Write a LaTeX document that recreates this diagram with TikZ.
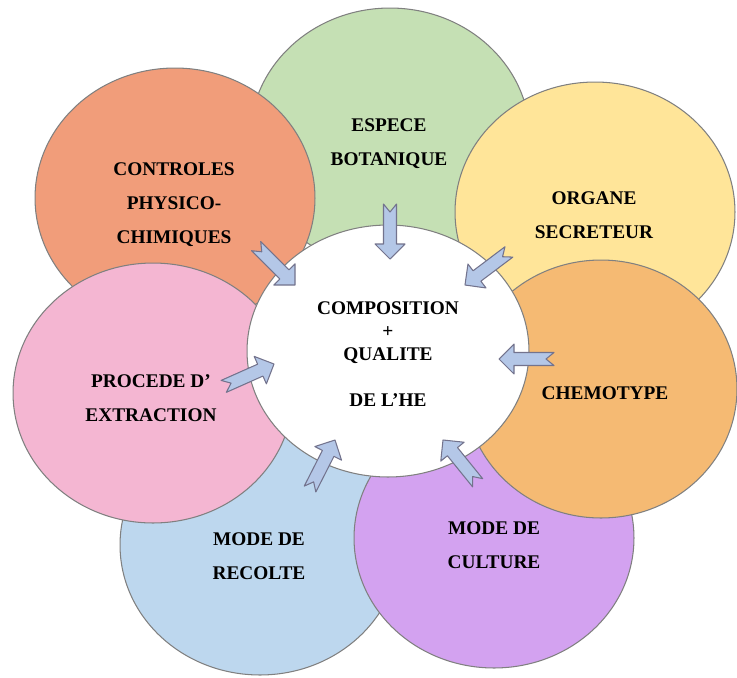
\documentclass[tikz,border=0pt]{standalone}
\usepackage{fontspec}
\setmainfont{Liberation Serif}
\usetikzlibrary{shapes.geometric}

\definecolor{colEspece}{RGB}{197,224,180}
\definecolor{colControle}{RGB}{241,157,122}
\definecolor{colOrgane}{RGB}{255,229,153}
\definecolor{colChemo}{RGB}{245,186,115}
\definecolor{colCulture}{RGB}{211,162,240}
\definecolor{colRecolte}{RGB}{189,215,238}
\definecolor{colProcede}{RGB}{244,182,210}
\definecolor{colFleche}{RGB}{180,199,231}
\definecolor{colTrait}{RGB}{128,128,128}

\tikzset{
    petal/.style={ellipse, draw=colTrait, line width=0.6pt, inner sep=0pt,
        minimum width=5.6cm, minimum height=5.2cm},
    petaltext/.style={align=center, inner sep=0pt,
        font=\bfseries\fontsize{11}{19.3}\selectfont},
    fleche/.pic={
        \draw[fill=colFleche, draw=colTrait!90!blue, line width=0.6pt, line join=round]
            (-55,6.5) -- (-15,6.5) -- (-15,15) -- (0,0) -- (-15,-15)
            -- (-15,-6.5) -- (-55,-6.5) -- (-47,0) -- cycle;
    }
}

\begin{document}
\begin{tikzpicture}[x=0.02cm,y=-0.02cm]

    \useasboundingbox (0,0) rectangle (737,677);

    % Petals, back to front
    \node[petal, fill=colEspece] (espece) at (390,138) {};
    \node[petaltext] (espece-t) at (389,144) {ESPECE\\BOTANIQUE};

    \node[petal, fill=colControle] (controle) at (175,198) {};
    \node[petaltext] (controle-t) at (174,205) {CONTROLES\\PHYSICO-\\CHIMIQUES};

    \node[petal, fill=colOrgane] (organe) at (595,212) {};
    \node[petaltext] (organe-t) at (594,215.5) {ORGANE\\SECRETEUR};

    \node[petal, fill=colRecolte] (recolte) at (260,545) {};
    \node[petaltext] (recolte-t) at (259,556.5) {MODE DE\\RECOLTE};

    \node[petal, fill=colCulture] (culture) at (494,538) {};
    \node[petaltext] (culture-t) at (494,545.5) {MODE DE\\CULTURE};

    \node[petal, fill=colChemo, minimum width=5.44cm, minimum height=5.16cm] (chemo) at (601,389) {};
    \node[petaltext] (chemo-t) at (605,393) {CHEMOTYPE};

    \node[petal, fill=colProcede] (procede) at (153,393) {};
    \node[petaltext] (procede-t) at (151,398.5) {PROCEDE D’\\EXTRACTION};

    % Centre
    \node[petal, fill=white, minimum width=5.64cm, minimum height=5.04cm] (centre) at (388,351) {};
    \node[petaltext, font=\bfseries\fontsize{11}{13}\selectfont] (centre-t) at (388,354)
        {COMPOSITION\\+\\QUALITE\\[13pt]DE L’HE};

    % Arrows towards the centre (tip x / tip y / angle)
    \foreach \x/\y/\a in {390/259/-90, 295/285/-45, 465/285/-143, 499/359/180,
                          443/440/129, 335/440/63, 274/364/24}
        \pic[rotate=\a] at (\x,\y) {fleche};

\end{tikzpicture}
\end{document}
